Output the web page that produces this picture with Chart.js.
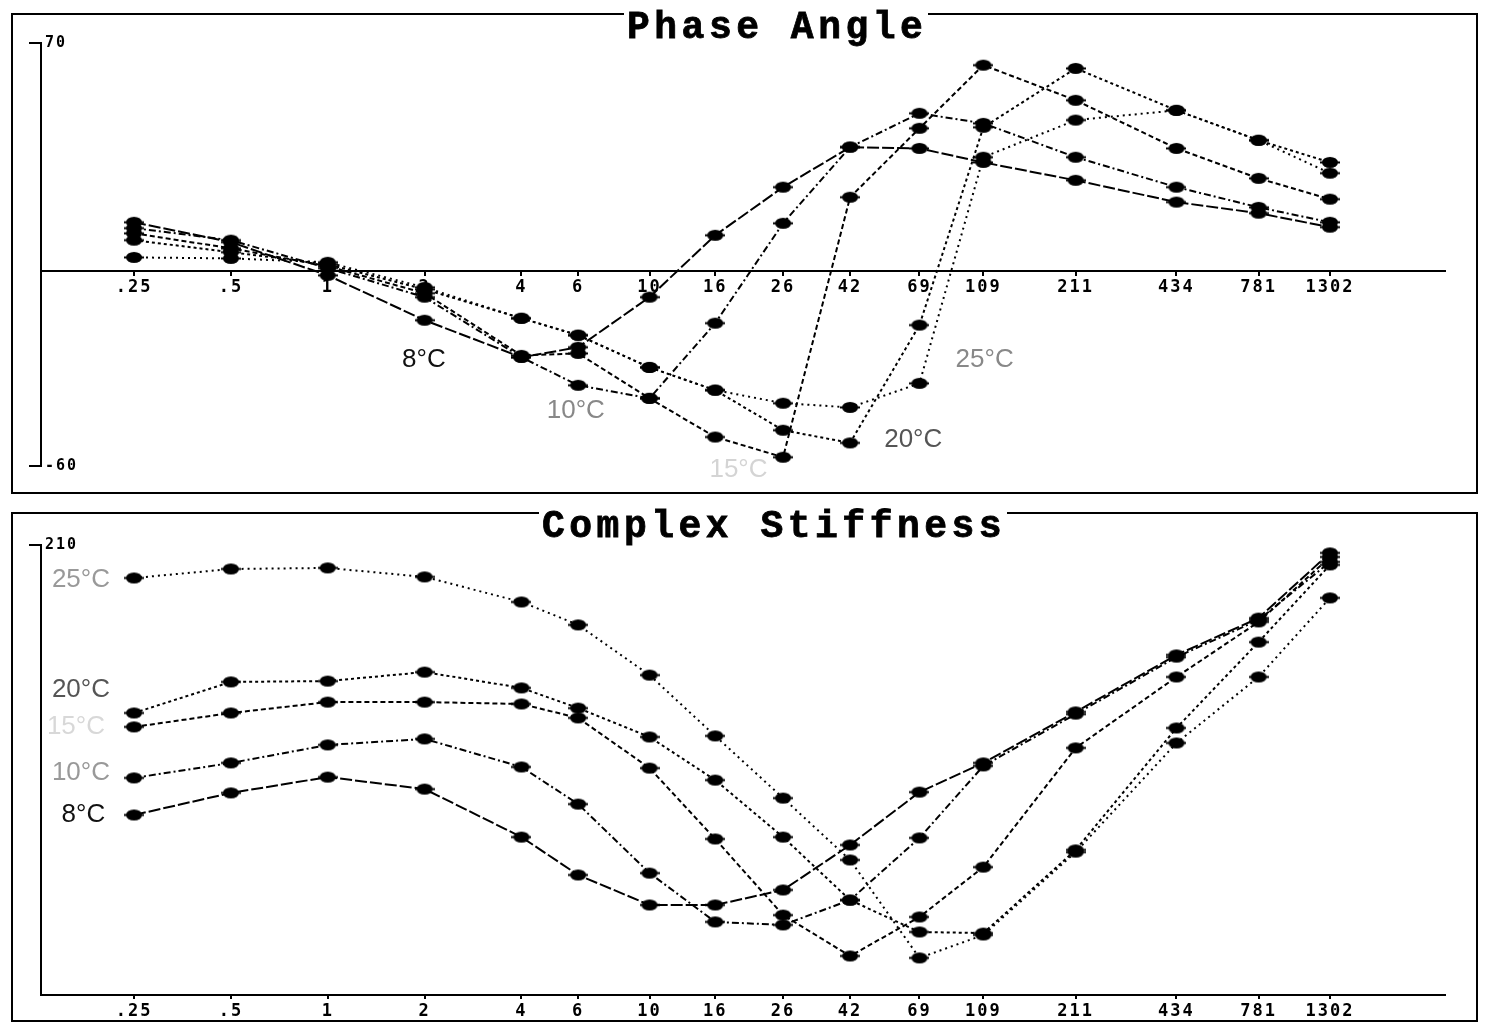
<!DOCTYPE html>
<html>
<head>
<meta charset="utf-8">
<script src="https://cdn.jsdelivr.net/npm/chart.js@4.4.1/dist/chart.umd.min.js"></script>
<style>
  body { margin: 0; background: #fff; width: 1486px; height: 1025px; overflow: hidden; position: relative; }
  .panel { position: absolute; left: 11px; width: 1463px; border: 2px solid #000; }
  #panel-top { top: 13px; height: 477px; }
  #panel-bottom { top: 512px; height: 506px; }
  .title {
    position: absolute; font-family: "Liberation Mono", monospace; font-weight: bold;
    font-size: 38px; letter-spacing: 4.5px; line-height: 1; background: #fff;
    padding: 0 1px 0 3px; color: #000; white-space: nowrap;
    -webkit-text-stroke: 0.8px #000;
  }
  canvas { position: absolute; }
</style>
</head>
<body>
<div class="panel" id="panel-top"></div>
<div class="panel" id="panel-bottom"></div>
<canvas id="phase-chart" width="1463" height="477" style="left:13px;top:15px;width:1463px;height:477px"></canvas>
<canvas id="stiffness-chart" width="1463" height="506" style="left:13px;top:514px;width:1463px;height:506px"></canvas>
<div class="title" style="left:624px;top:9px">Phase Angle</div>
<div class="title" style="left:539px;top:508px">Complex Stiffness</div>

<script>
// Frequencies (Hz) and their axis labels
const freqs = [0.25, 0.5, 1, 2, 4, 6, 10, 16, 26, 42, 69, 109, 211, 434, 781, 1302]
const freqLabels = [".25", ".5", "1", "2", "4", "6", "10", "16", "26", "42", "69", "109", "211", "434", "781", "1302"]
const temps = ["8°C", "10°C", "15°C", "20°C", "25°C"]

// Phase Angle
const phase8 = [14.9, 8.8, -1.4, -15.2, -26.6, -23.5, -8.1, 10.9, 25.7, 38.0, 37.6, 33.3, 27.8, 21.1, 17.7, 13.4]
const phase10 = [13.1, 9.4, 0.8, -8.1, -26.6, -35.2, -39.2, -16.1, 14.6, 38.0, 48.4, 45.3, 34.9, 25.7, 19.5, 14.9]
const phase15 = [11.5, 6.9, 1.4, -6.9, -26.0, -25.4, -39.2, -51.1, -57.3, 22.6, 43.8, 63.2, 52.4, 37.6, 28.4, 22.0]
const phase20 = [9.4, 5.7, 2.0, -5.7, -14.6, -19.8, -29.7, -36.7, -49.0, -52.9, -16.7, 44.1, 62.2, 49.3, 40.1, 33.3]
const phase25 = [4.1, 3.8, 2.6, -5.1, -14.6, -19.8, -29.7, -36.7, -40.7, -42.0, -34.6, 34.9, 46.3, 49.3, 40.1, 30.0]
const phaseTicks = [70, -60]

// Complex Stiffness
const stiff8 = [84.0, 94.3, 101.7, 96.1, 73.7, 56.0, 42.0, 42.0, 49.0, 70.0, 94.7, 108.3, 132.1, 158.7, 175.9, 206.3]
const stiff10 = [101.3, 108.3, 116.7, 119.5, 106.4, 89.1, 56.9, 34.1, 32.7, 44.3, 73.3, 106.9, 131.1, 157.7, 175.0, 202.1]
const stiff15 = [125.1, 131.6, 136.7, 136.7, 135.8, 129.3, 105.9, 72.8, 37.3, 18.2, 36.4, 59.7, 115.3, 148.4, 174.1, 204.4]
const stiff20 = [131.6, 146.1, 146.5, 150.7, 143.3, 133.9, 120.4, 100.3, 73.7, 44.3, 29.4, 28.9, 67.7, 124.6, 164.7, 200.7]
const stiff25 = [194.6, 198.8, 199.3, 195.1, 183.4, 172.7, 149.3, 120.9, 91.9, 63.0, 17.3, 28.0, 66.7, 117.6, 148.4, 185.3]
const stiffTicks = [210]

// where the temperature names sit, in data units [freq, value]
const phaseLabelSpots = [[1.99, -27.5], [5.9, -42.9], [18.9, -61.3], [66, -52.1], [110, -27.5]]
const stiffLabelSpots = [[0.174, 84.0], [0.171, 103.6], [0.165, 125.1], [0.171, 142.3], [0.171, 193.7]]
const phaseLabelColors = ["#111", "#888", "#d4d4d4", "#555", "#888"]
const stiffLabelColors = ["#111", "#999", "#d8d8d8", "#555", "#999"]

const dashes = [[12, 3], [7, 3, 2, 3], [5, 3], [3, 3], [2, 4]]

function makeMarker() {
  const c = document.createElement("canvas")
  c.width = 20
  c.height = 13
  const g = c.getContext("2d")
  g.fillStyle = "#000"
  g.beginPath()
  g.ellipse(10, 6.5, 8, 5.5, 0, 0, Math.PI * 2)
  g.fill()
  g.fillRect(0, 5.5, 20, 2)
  return c
}
const marker = makeMarker()

function makeDatasets(seriesList) {
  return seriesList.map((vals, k) => ({
    label: temps[k],
    data: freqs.map((f, i) => ({ x: f, y: vals[i] })),
    borderColor: "#000",
    backgroundColor: "#000",
    borderWidth: 2,
    borderDash: dashes[k],
    pointStyle: marker,
    pointRadius: 6,
    tension: 0,
  }))
}

// wider, blockier tick text
const spacedText = {
  id: "spacedText",
  beforeDraw(chart) { chart.ctx.letterSpacing = "2px" },
  afterDraw(chart) { chart.ctx.letterSpacing = "0px" },
}

const tempLabels = {
  id: "tempLabels",
  afterDatasetsDraw(chart, args, opts) {
    const { ctx } = chart
    const x = chart.scales.x
    const y = chart.scales.y
    ctx.save()
    ctx.letterSpacing = "0px"
    ctx.font = '26px "Liberation Sans", Arial, sans-serif'
    ctx.textAlign = "center"
    ctx.textBaseline = "middle"
    opts.spots.forEach((s, k) => {
      ctx.fillStyle = opts.colors[k]
      ctx.fillText(temps[k], x.getPixelForValue(s[0]), y.getPixelForValue(s[1]))
    })
    ctx.restore()
  },
}

const tickFont = { family: '"DejaVu Sans Mono", monospace', size: 17, weight: "bold" }

function makeOptions(cfg) {
  return {
    responsive: false,
    animation: false,
    layout: { padding: cfg.padding },
    plugins: {
      legend: { display: false },
      tooltip: { enabled: false },
      tempLabels: { spots: cfg.spots, colors: cfg.colors },
    },
    scales: {
      x: {
        type: "logarithmic",
        min: 0.1285,
        max: 2965,
        position: cfg.xPos,
        afterBuildTicks: (scale) => { scale.ticks = freqs.map((v) => ({ value: v })) },
        afterFit: (scale) => { if (cfg.xHeight) scale.height = cfg.xHeight },
        grid: { drawOnChartArea: false, drawTicks: true, tickLength: 4, color: "#000", lineWidth: 2 },
        border: { display: true, color: "#000", width: 2 },
        ticks: {
          autoSkip: false, maxRotation: 0, minRotation: 0, padding: cfg.xPad,
          color: "#000", font: tickFont,
          callback: (v, i) => freqLabels[i],
        },
      },
      y: {
        min: cfg.yMin,
        max: cfg.yMax,
        afterBuildTicks: (scale) => { scale.ticks = cfg.yTicks.map((v) => ({ value: v })) },
        afterFit: (scale) => { scale.width = 28 },
        grid: { drawOnChartArea: false, drawTicks: true, tickLength: 12, color: "#000", lineWidth: 2 },
        border: { display: true, color: "#000", width: 2 },
        ticks: { mirror: true, padding: 4, color: "#000", font: { ...tickFont, size: 15 } },
      },
    },
  }
}

// Phase Angle chart
const phaseCtx = document.getElementById("phase-chart").getContext("2d")
const phaseChart = new Chart(phaseCtx, {
  type: "line",
  data: { datasets: makeDatasets([phase8, phase10, phase15, phase20, phase25]) },
  options: makeOptions({
    padding: { left: 0, right: 31, top: 28, bottom: 26 },
    xPos: { y: 0 },
    xPad: 3,
    yMin: -60, yMax: 70, yTicks: phaseTicks,
    spots: phaseLabelSpots, colors: phaseLabelColors,
  }),
  plugins: [spacedText, tempLabels],
})

// Complex Stiffness chart
const stiffCtx = document.getElementById("stiffness-chart").getContext("2d")
const stiffChart = new Chart(stiffCtx, {
  type: "line",
  data: { datasets: makeDatasets([stiff8, stiff10, stiff15, stiff20, stiff25]) },
  options: makeOptions({
    padding: { left: 0, right: 31, top: 31, bottom: 0 },
    xPos: "bottom",
    xHeight: 25,
    xPad: 2,
    yMin: 0, yMax: 210, yTicks: stiffTicks,
    spots: stiffLabelSpots, colors: stiffLabelColors,
  }),
  plugins: [spacedText, tempLabels],
})
</script>
</body>
</html>
